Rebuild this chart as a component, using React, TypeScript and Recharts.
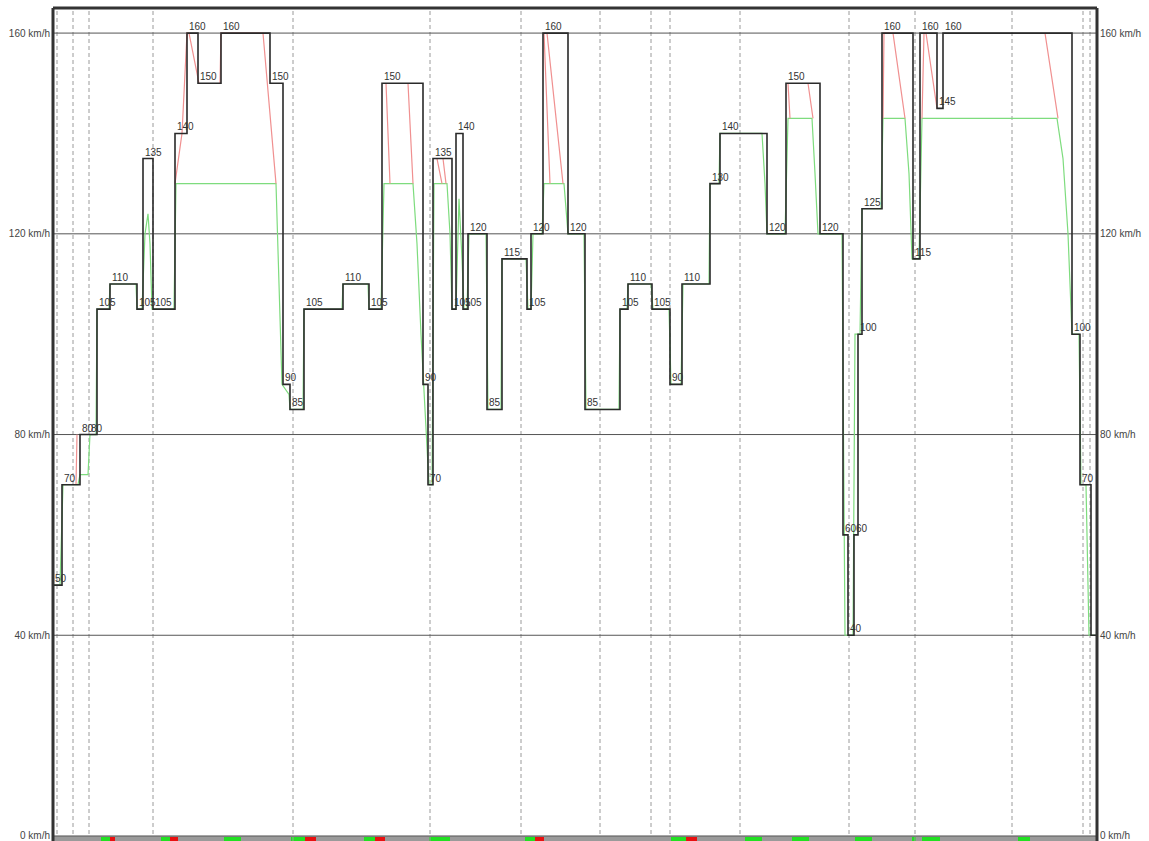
import React from 'react';
import { LineChart, Line, XAxis, YAxis, ReferenceLine, ReferenceArea } from 'recharts';

// Route length in km and the speed range shown
const ROUTE_END = 52.2;
const SPEED_MIN = -1;
const SPEED_MAX = 165;
const speedTicks = [0, 40, 80, 120, 160];

// Static line speed limit: start of each section (km) and its limit (km/h)
const limitStarts = [
  0, 0.45, 1.35, 1.8, 2.2, 2.85, 4.2, 4.5, 5.0, 6.1, 6.7, 7.25, 8.4, 10.85, 11.5, 11.85,
  12.55, 14.5, 15.8, 16.45, 18.5, 18.75, 19.0, 19.95, 20.15, 20.5, 20.75, 21.7, 22.45,
  23.7, 23.9, 24.5, 25.75, 26.6, 28.35, 28.75, 29.95, 30.85, 31.45, 32.85, 33.35, 35.7,
  36.65, 38.35, 39.5, 39.75, 40.05, 40.25, 40.45, 41.45, 43.0, 43.35, 44.2, 44.5, 50.95,
  51.35, 51.9,
];
const limitSpeeds = [
  50, 70, 80, 80, 105, 110, 105, 135, 105, 140, 160, 150, 160, 150, 90, 85,
  105, 110, 105, 150, 90, 70, 135, 105, 140, 105, 120, 85, 115,
  105, 120, 160, 120, 85, 105, 110, 105, 90, 110, 130, 140, 120,
  150, 120, 60, 40, 60, 100, 125, 160, 115, 160, 145, 160, 100,
  70, 40,
];
// Sections whose limit is not annotated
const unlabeledSections = [56];

// Simulated train speed
const actualKm = [
  0, 0.35, 0.5, 1.25, 1.35, 1.75, 1.85, 2.15, 2.2, 2.8, 2.85, 4.15, 4.2, 4.45, 4.6, 4.75,
  4.85, 4.95, 6.05, 6.15, 11.15, 11.3, 11.45, 11.8, 11.85, 12.5, 12.55, 14.45, 14.5, 15.75,
  15.8, 16.4, 16.55, 18.0, 18.2, 18.4, 18.6, 18.8, 18.95, 19.05, 19.7, 19.85, 19.95, 20.15,
  20.3, 20.45, 20.55, 20.7, 20.8, 21.65, 21.75, 22.4, 22.45, 23.65, 23.75, 23.9, 24.0,
  24.45, 24.55, 25.55, 25.75, 26.55, 26.65, 28.3, 28.35, 28.7, 28.75, 29.9, 30.0, 30.8,
  30.9, 31.4, 31.5, 32.8, 32.85, 33.3, 33.35, 35.45, 35.6, 35.7, 36.6, 36.75, 37.95, 38.1,
  38.25, 39.45, 39.6, 40.0, 40.1, 40.35, 40.45, 41.4, 41.5, 42.6, 42.8, 42.95, 43.3, 43.45,
  50.2, 50.5, 50.75, 50.95, 51.3, 51.4, 51.65, 51.8, 52.2,
];
const actualSpeed = [
  50, 50, 70, 70, 72, 72, 80, 80, 105, 105, 110, 110, 105, 105, 120, 124,
  118, 105, 105, 130, 130, 110, 90, 88, 85, 85, 105, 105, 110, 110,
  105, 105, 130, 130, 118, 100, 85, 70, 70, 130, 130, 120, 105, 105,
  127, 115, 105, 105, 120, 120, 85, 85, 115, 115, 105, 105, 120,
  120, 130, 130, 120, 120, 85, 85, 105, 105, 110, 110, 105, 105,
  90, 90, 110, 110, 130, 130, 140, 140, 130, 120, 120, 143, 143, 132,
  120, 120, 40, 40, 100, 100, 125, 125, 143, 143, 132, 115, 115, 143,
  143, 135, 120, 100, 100, 70, 70, 40, 40,
];

// Braking / release curves (null separates curve pieces)
const curveKm = [
  1.15, 1.2, 1.2,
  6.1, 6.45, 6.7, 6.8, 7.3, 7.3,
  8.35, 8.4, 10.5, 11.15, 11.15,
  16.65, 16.85, 16.85,
  17.75, 18.0, 18.0,
  19.2, 19.45, 19.45,
  19.5, 19.65, 19.65,
  24.55, 24.85, 24.85,
  24.7, 25.5, 25.5,
  36.75, 36.85, 36.85,
  37.75, 38.0, 38.0,
  41.5, 41.55, 42.0, 42.6, 42.6,
  43.45, 43.55, 43.65, 44.2, 44.2,
  49.6, 50.25,
];
const curveSpeed = [
  70, 80, null,
  130, 140, 160, 160, 150, null,
  150, 160, 160, 130, null,
  150, 130, null,
  150, 130, null,
  135, 130, null,
  135, 130, null,
  160, 130, null,
  160, 130, null,
  150, 143, null,
  150, 143, null,
  143, 160, 160, 143, null,
  143, 160, 160, 145, null,
  160, 143,
];

// Kilometre posts / stations
const markerKm = [
  0.2, 1.0, 1.8, 5.0, 12.0, 18.85, 23.4, 27.35, 29.9, 30.85, 34.35, 39.8, 43.1, 47.95, 51.5, 51.85,
];

// Balises along the track
const beaconFrom = [
  2.4, 2.85, 5.4, 5.85, 8.55, 11.9, 12.6, 15.55, 16.1, 18.8, 23.6, 24.1, 30.9, 31.65,
  34.6, 36.95, 40.1, 42.95, 43.45, 48.25,
];
const beaconTo = [
  2.85, 3.1, 5.85, 6.25, 9.4, 12.6, 13.15, 16.1, 16.6, 19.85, 24.1, 24.55, 31.65, 32.2,
  35.45, 37.8, 40.95, 43.15, 44.35, 48.85,
];
const beaconKind = [
  'g', 'r', 'g', 'r', 'g', 'g', 'r', 'g', 'r', 'g', 'g', 'r', 'g', 'r',
  'g', 'g', 'g', 'g', 'g', 'g',
];

const limitData = limitStarts.flatMap((start, i) => {
  const end = i + 1 < limitStarts.length ? limitStarts[i + 1] : ROUTE_END;
  return [
    { km: start, limit: limitSpeeds[i], section: i },
    { km: end, limit: limitSpeeds[i], section: -1 },
  ];
});
const actualData = actualKm.map((km, i) => ({ km, speed: actualSpeed[i] }));
const curveData = curveKm.map((km, i) => ({ km, speed: curveSpeed[i] }));

const FONT = 'Liberation Sans, Arial, sans-serif';

const renderLimitLabel = (props: any) => {
  const { x, y, index } = props;
  const pt = limitData[index];
  if (!pt || pt.section < 0 || unlabeledSections.includes(pt.section)) {
    return <g key={`lim-${index}`} />;
  }
  return (
    <text key={`lim-${index}`} x={x + 2} y={y - 3} fontSize={10} fill="#333" fontFamily={FONT}>
      {pt.limit}
    </text>
  );
};

const SpeedTick = (props: any) => {
  const { x, y, payload, anchor } = props;
  return (
    <text
      x={x}
      y={y}
      dy={3.5}
      textAnchor={anchor}
      fontSize={10}
      fill="#444"
      fontFamily={FONT}
    >
      {`${payload.value} km/h`}
    </text>
  );
};

export default function App() {
  return (
    <div style={{ position: 'absolute', left: 0, top: 0, background: '#fff' }}>
      <LineChart width={1149} height={841} margin={{ top: 8, right: 0, bottom: 0, left: 0 }}>
        <XAxis type="number" dataKey="km" domain={[0, ROUTE_END]} hide allowDataOverflow />
        <YAxis
          yAxisId="left"
          type="number"
          domain={[SPEED_MIN, SPEED_MAX]}
          ticks={speedTicks}
          interval={0}
          width={53}
          axisLine={false}
          tickLine={false}
          tickSize={0}
          tickMargin={3}
          tick={<SpeedTick anchor="end" />}
          allowDataOverflow
        />
        <YAxis
          yAxisId="right"
          orientation="right"
          type="number"
          domain={[SPEED_MIN, SPEED_MAX]}
          ticks={speedTicks}
          interval={0}
          width={52}
          axisLine={false}
          tickLine={false}
          tickSize={0}
          tickMargin={3}
          tick={<SpeedTick anchor="start" />}
          allowDataOverflow
        />

        {markerKm.map((km) => (
          <ReferenceLine
            key={`mk-${km}`}
            yAxisId="left"
            x={km}
            stroke="#9a9a9a"
            strokeDasharray="4 3"
            strokeWidth={1}
          />
        ))}
        {speedTicks.map((v) => (
          <ReferenceLine key={`gy-${v}`} yAxisId="left" y={v} stroke="#555" strokeWidth={1} />
        ))}

        <Line
          yAxisId="left"
          data={actualData}
          dataKey="speed"
          type="linear"
          stroke="#7edc7e"
          strokeWidth={1.2}
          dot={false}
          isAnimationActive={false}
        />
        <Line
          yAxisId="left"
          data={curveData}
          dataKey="speed"
          type="linear"
          stroke="#f09090"
          strokeWidth={1.2}
          dot={false}
          connectNulls={false}
          isAnimationActive={false}
        />
        <Line
          yAxisId="left"
          data={limitData}
          dataKey="limit"
          type="linear"
          stroke="#2a2a2a"
          strokeWidth={1.6}
          dot={false}
          label={renderLimitLabel}
          isAnimationActive={false}
        />

        <ReferenceArea
          yAxisId="left"
          x1={0}
          x2={ROUTE_END}
          y1={SPEED_MIN}
          y2={0}
          fill="#9a9a9a"
          fillOpacity={1}
          stroke="none"
        />
        {beaconFrom.map((from, i) => (
          <ReferenceArea
            key={`bc-${i}`}
            yAxisId="left"
            x1={from}
            x2={beaconTo[i]}
            y1={SPEED_MIN}
            y2={-0.2}
            fill={beaconKind[i] === 'r' ? '#e81010' : '#22e022'}
            fillOpacity={1}
            stroke="none"
          />
        ))}

        <ReferenceLine yAxisId="left" y={SPEED_MAX} stroke="#333" strokeWidth={3} />
        <ReferenceLine yAxisId="left" x={0} stroke="#333" strokeWidth={3} />
        <ReferenceLine yAxisId="left" x={ROUTE_END} stroke="#333" strokeWidth={3} />
      </LineChart>
    </div>
  );
}
